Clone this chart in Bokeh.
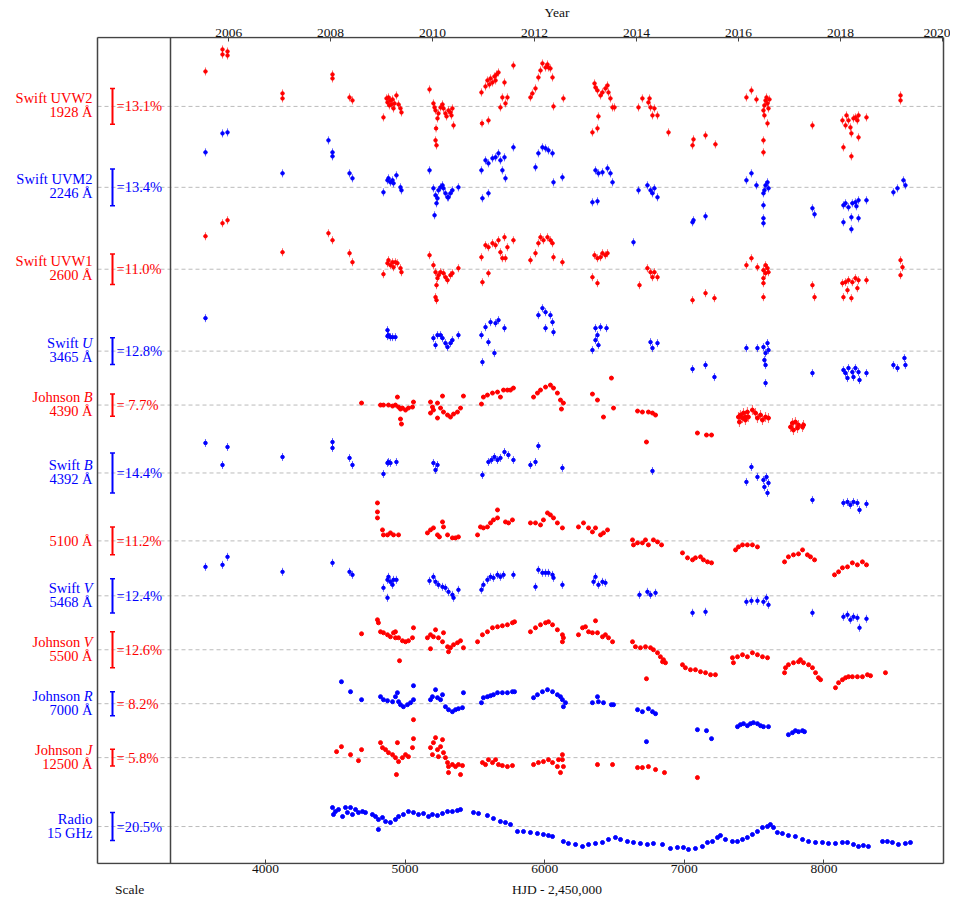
from bokeh.plotting import figure
from bokeh.models import Range1d, LinearAxis, FixedTicker
from bokeh.embed import file_html
from bokeh.resources import INLINE
from bokeh.core.properties import value

# ---------------- data: (HJD-2450000, flux offset from the band's dashed line, panel units) ----------------
uvw2 = [(3570,35),(3692,57),(3692,52),(3728,55),(3728,51),(4122,13),(4122,8),(4480,32),(4480,28),(4602,9),(4623,6),
        (4845,-11),(4867,8),(4874,4),(4881,9),(4888,1),(4895,6),(4903,2),(4910,7),(4917,-2),(4924,3),(4938,11),(4953,2),
        (4967,-2),(4974,-6),(5175,17),(5203,3),(5211,-1),(5218,-4),(5222,-22),(5218,-34),(5225,-39),(5232,-12),(5239,-7),
        (5254,-1),(5268,2),(5275,-2),(5289,-7),(5297,-10),(5311,-4),(5325,-6),(5332,-9),(5339,-2),(5347,-19),(5547,14),
        (5551,-17),(5597,-14),(5576,20),(5590,26),(5604,22),(5612,28),(5626,24),(5640,30),(5648,26),(5655,32),(5669,34),
        (5683,-1),(5697,9),(5712,24),(5719,3),(5733,9),(5776,41),(5898,9),(5912,13),(5934,18),(5955,29),(5970,36),(5984,43),
        (6006,39),(6020,42),(6027,39),(6041,38),(6056,29),(6063,0),(6134,8),(6342,-26),(6378,-22),(6385,-10),(6357,23),
        (6364,19),(6378,16),(6400,11),(6414,14),(6435,18),(6450,21),(6457,14),(6471,8),(6486,-1),(6500,-1),(6672,-1),
        (6700,8),(6743,4),(6751,8),(6758,-1),(6772,-9),(6786,-2),(6808,-9),(6887,-26),(7059,-39),(7066,-33),(7152,-29),
        (7223,-38),(7445,9),(7481,16),(7517,7),(7567,-4),(7574,1),(7582,6),(7589,9),(7596,3),(7603,-2),(7610,7),(7574,-9),
        (7596,-17),(7567,-34),(7567,-46),(7918,-19),(8133,-14),(8140,-41),(8155,-19),(8162,-9),(8176,-14),(8190,-21),
        (8197,-27),(8197,-50),(8212,-12),(8226,-11),(8240,-14),(8248,-9),(8248,-31),(8305,-11),(8549,11),(8549,6)]

uvm2 = [(3570,35),(3692,54),(3728,55),(4122,14),(4451,47),(4480,35),(4480,31),(4602,14),(4623,9),(4845,-5),(4874,7),
        (4881,9),(4895,5),(4910,7),(4917,4),(4938,12),(4967,0),(4974,-3),(5175,17),(5203,-1),(5218,-8),(5225,-16),
        (5211,-28),(5232,-11),(5239,-3),(5254,0),(5268,2),(5275,-1),(5289,-6),(5304,-10),(5311,-10),(5325,-6),(5339,-3),
        (5382,0),(5547,17),(5554,-11),(5597,-6),(5576,27),(5597,24),(5626,29),(5648,30),(5669,34),(5683,27),(5697,17),
        (5712,30),(5719,9),(5776,40),(5934,20),(5955,34),(5984,40),(6006,39),(6027,37),(6056,34),(6063,5),(6127,10),
        (6342,-15),(6378,-14),(6364,17),(6385,14),(6414,15),(6450,19),(6471,14),(6486,5),(6636,-55),(6672,-3),(6736,2),
        (6758,-3),(6772,-6),(6786,-1),(6808,-10),(7059,-35),(7066,-33),(7152,-29),(7445,7),(7481,14),(7517,2),(7567,-6),
        (7582,2),(7596,5),(7603,-1),(7574,-3),(7567,-18),(7567,-31),(7567,-36),(7918,-21),(7933,-27),(8140,-18),
        (8155,-16),(8176,-20),(8204,-16),(8226,-15),(8248,-13),(8233,-19),(8197,-30),(8140,-35),(8197,-42),(8248,-31),
        (8305,-13),(8498,-5),(8527,-1),(8570,7),(8584,2)]

uvw1 = [(3570,33),(3692,46),(3728,49),(4122,17),(4451,36),(4480,29),(4602,16),(4623,7),(4845,-5),(4874,6),(4881,9),
        (4895,4),(4910,7),(4917,2),(4931,7),(4945,6),(4967,1),(4974,-3),(5175,14),(5203,4),(5218,-3),(5225,-16),
        (5218,-28),(5225,-31),(5232,-9),(5239,-6),(5254,-3),(5275,-4),(5289,-8),(5304,-11),(5325,-6),(5339,-4),(5382,1),
        (5547,12),(5554,-13),(5597,-4),(5576,24),(5597,22),(5626,26),(5648,24),(5669,29),(5683,17),(5697,11),(5712,32),
        (5719,11),(5733,22),(5776,29),(5898,9),(5934,16),(5955,26),(5970,32),(5991,29),(6020,32),(6041,29),(6056,26),
        (6063,12),(6127,7),(6342,-8),(6378,-14),(6357,14),(6378,11),(6400,12),(6414,16),(6435,14),(6450,16),(6679,-16),
        (6736,1),(6758,-3),(6772,-8),(6786,-3),(6808,-8),(7059,-31),(7152,-24),(7216,-29),(7445,4),(7481,11),(7524,2),
        (7567,-1),(7582,4),(7596,1),(7603,-3),(7567,-9),(7582,-4),(7567,-14),(7567,-28),(7918,-16),(7933,-28),
        (8133,-14),(8155,-13),(8176,-11),(8204,-13),(8226,-9),(8248,-11),(8140,-28),(8197,-29),(8169,-21),(8240,-19),
        (8305,-11),(8549,9),(8563,2),(8549,-6)]

swift_u = [(3570,33),(4874,21),(4881,16),(4895,14),(4910,14),(4931,14),(4874,15),(5203,13),(5218,6),(5232,16),(5254,16),
           (5268,13),(5289,8),(5304,4),(5325,8),(5339,11),(5382,16),(5547,16),(5554,-11),(5597,9),(5640,-2),(5576,24),
           (5612,29),(5648,28),(5669,31),(5712,23),(5955,36),(5984,43),(6006,39),(6041,36),(6056,29),(6006,23),(6063,19),
           (6342,1),(6364,11),(6378,16),(6385,6),(6364,23),(6400,24),(6443,23),(6758,9),(6772,3),(6808,8),(7059,-18),
           (7152,-14),(7216,-26),(7445,3),(7524,3),(7567,4),(7582,-2),(7596,8),(7603,1),(7574,-9),(7582,-14),(7582,-32),
           (7918,-22),(8140,-19),(8155,-22),(8176,-17),(8204,-21),(8226,-17),(8248,-21),(8169,-27),(8212,-26),(8255,-29),
           (8305,-22),(8498,-14),(8527,-17),(8577,-7),(8584,-14)]

johnson_b = [(4688,2),(4824,0),(4845,0),(4881,0),(4910,-1),(4931,0),(4945,8),(4953,-2),(4967,-4),(4981,-3),(5003,-5),
             (5024,-3),(5053,-2),(5060,3),(4967,-14),(4974,-19),(5182,3),(5196,-2),(5203,-5),(5232,2),(5254,-3),(5268,9),
             (5275,-7),(5304,-10),(5325,-12),(5347,-9),(5375,-7),(5397,-3),(5418,9),(5182,-8),(5232,-13),(5547,1),
             (5561,8),(5590,10),(5626,12),(5662,13),(5683,8),(5705,15),(5733,15),(5755,15),(5776,17),(5920,8),(5948,12),
             (5970,15),(6006,18),(6041,20),(6063,17),(6091,12),(6113,5),(6134,2),(6120,-4),(6342,11),(6378,5),(6478,27),
             (6421,-12),(6493,-3),(6665,-6),(6700,-7),(6743,-7),(6772,-8),(6794,-10),(6729,-37),(7094,-28),(7159,-30),
             (7195,-30),(7388,-12),(7402,-10),(7417,-13),(7424,-8),(7438,-12),(7452,-7),(7459,-12),(7488,-5),(7510,-8),
             (7524,-13),(7546,-10),(7560,-15),(7582,-12),(7603,-13),(7395,-17),(7438,-15),(7761,-22),(7775,-18),
             (7796,-17),(7811,-23),(7818,-20),(7847,-22),(7854,-20),(7782,-25)]
johnson_b_errbar_from = 7300   # later Johnson B points carry visible error bars

swift_b = [(3570,30),(3692,8),(3728,26),(4122,16),(4480,31),(4480,25),(4602,15),(4623,8),(4845,-1),(4874,10),(4881,11),
           (4895,10),(4938,11),(5203,10),(5218,3),(5232,8),(5554,-2),(5597,11),(5619,13),(5640,16),(5662,13),(5683,15),
           (5712,21),(5740,18),(5776,13),(5898,8),(5934,11),(5955,27),(6127,5),(6772,2),(7445,-9),(7481,6),(7524,-4),
           (7567,-7),(7589,-4),(7603,-10),(7596,-20),(7574,-14),(7918,-27),(8140,-30),(8169,-29),(8190,-32),(8212,-29),
           (8240,-30),(8255,-37),(8305,-31)]

flux_5100 = [(4802,38),(4802,29),(4802,23),(4838,11),(4845,6),(4874,6),(4895,8),(4917,6),(4953,6),(5160,8),(5182,11),
             (5203,13),(5232,6),(5246,4),(5268,19),(5275,14),(5304,6),(5339,3),(5361,3),(5382,4),(5519,6),(5540,14),
             (5561,13),(5590,14),(5612,18),(5633,21),(5662,31),(5662,23),(5719,19),(5741,18),(5769,21),(5898,18),
             (5934,18),(5970,16),(5991,21),(6020,28),(6041,26),(6063,23),(6091,18),(6127,13),(6242,14),(6278,18),
             (6314,13),(6342,9),(6364,13),(6400,6),(6421,8),(6450,11),(6629,1),(6636,-4),(6665,-2),(6700,-2),(6722,1),
             (6743,-4),(6779,1),(6808,-1),(6837,-4),(6987,-12),(7023,-17),(7059,-19),(7080,-17),(7116,-16),(7137,-19),
             (7166,-21),(7195,-22),(7367,-9),(7388,-6),(7417,-4),(7452,-4),(7488,-4),(7524,-6),(7718,-21),(7746,-16),
             (7782,-14),(7818,-13),(7847,-9),(7882,-14),(7904,-16),(7933,-19),(8076,-34),(8105,-31),(8133,-27),
             (8169,-26),(8204,-22),(8240,-24),(8276,-21),(8305,-24)]

swift_v = [(3570,29),(3692,31),(3728,39),(4122,24),(4480,33),(4602,24),(4623,21),(4845,8),(4874,-2),(4874,16),(4881,19),
           (4895,14),(4910,11),(4917,16),(4938,16),(5175,15),(5203,19),(5218,14),(5239,11),(5268,9),(5289,8),(5311,4),
           (5339,1),(5347,-2),(5382,6),(5547,6),(5561,11),(5590,16),(5612,19),(5633,18),(5662,21),(5683,19),(5705,21),
           (5776,21),(5934,9),(5955,26),(5984,23),(6006,23),(6027,23),(6056,21),(6063,18),(6127,11),(6350,14),(6364,19),
           (6385,11),(6414,14),(6435,13),(6679,1),(6736,4),(6758,1),(6794,3),(7059,-17),(7152,-16),(7445,-6),(7481,-5),
           (7524,-5),(7567,-6),(7589,-2),(7603,-9),(7918,-17),(8140,-21),(8169,-19),(8190,-24),(8212,-21),(8240,-22),
           (8255,-32),(8305,-23)]

johnson_v = [(4688,16),(4802,30),(4809,27),(4824,18),(4845,17),(4874,15),(4895,13),(4917,17),(4931,12),(4931,18),
             (4953,12),(4981,9),(5003,8),(5024,9),(5053,12),(5060,22),(4960,-11),(5160,12),(5182,15),(5203,13),
             (5218,20),(5239,12),(5268,8),(5275,17),(5304,3),(5325,2),(5311,-2),(5347,5),(5375,7),(5397,9),(5418,2),
             (5182,1),(5519,8),(5554,15),(5590,18),(5626,22),(5662,23),(5697,24),(5733,25),(5769,27),(5784,28),
             (5898,18),(5934,22),(5970,25),(6006,27),(6027,28),(6056,25),(6091,20),(6127,15),(6134,12),(6127,8),
             (6242,15),(6271,22),(6292,23),(6314,18),(6342,17),(6364,29),(6378,17),(6414,13),(6435,15),(6457,12),
             (6486,8),(6629,8),(6650,3),(6686,2),(6722,3),(6758,2),(6779,0),(6808,-3),(6829,-7),(6851,-10),(6844,-12),
             (6865,-13),(6729,-29),(6987,-15),(7008,-18),(7044,-20),(7080,-20),(7116,-22),(7152,-23),(7188,-25),
             (7223,-25),(7345,-8),(7352,-13),(7381,-7),(7417,-5),(7452,-7),(7488,-3),(7524,-5),(7560,-7),(7596,-8),
             (7718,-23),(7725,-18),(7746,-15),(7782,-13),(7818,-12),(7832,-10),(7854,-13),(7890,-15),(7918,-18),
             (7940,-23),(7961,-28),(7976,-30),(8083,-38),(8105,-33),(8133,-30),(8155,-28),(8176,-27),(8204,-27),
             (8240,-27),(8276,-27),(8312,-25),(8334,-26),(8441,-23)]

johnson_r = [(4544,22),(4609,12),(4688,4),(4824,7),(4845,4),(4874,3),(4910,2),(4931,7),(4945,11),(4953,2),(4967,-1),
             (4988,-3),(5017,-1),(5039,1),(5060,4),(5060,18),(5182,4),(5196,7),(5218,14),(5232,6),(5254,4),(5268,9),
             (5289,-3),(5311,-6),(5339,-8),(5361,-6),(5382,-5),(5411,-4),(5418,11),(5547,1),(5561,6),(5590,7),(5612,8),
             (5633,9),(5662,11),(5697,11),(5733,11),(5769,12),(5784,12),(5920,6),(5948,9),(5984,12),(6020,14),(6056,12),
             (6091,9),(6113,7),(6127,4),(6134,-3),(6149,1),(6342,1),(6378,7),(6385,2),(6421,1),(6478,-1),(6493,-1),
             (6665,-6),(6700,-8),(6743,-5),(6772,-8),(6794,-10),(6729,-38),(7094,-26),(7159,-27),(7195,-35),(7381,-23),
             (7402,-21),(7424,-20),(7452,-22),(7474,-20),(7495,-19),(7524,-20),(7546,-22),(7567,-23),(7603,-23),
             (7746,-31),(7775,-29),(7796,-27),(7818,-28),(7847,-27),(7861,-28)]

johnson_j = [(4509,6),(4544,11),(4609,3),(4666,-3),(4688,8),(4824,15),(4838,10),(4860,8),(4881,5),(4910,3),(4931,0),
             (4945,15),(4953,-4),(4981,0),(5003,3),(5024,1),(5053,10),(5060,19),(5060,38),(4938,-17),(5182,10),(5203,15),
             (5218,20),(5232,8),(5254,11),(5268,18),(5275,5),(5289,0),(5304,-5),(5311,-9),(5339,-7),(5361,-9),(5382,-7),
             (5411,-8),(5311,-15),(5397,-17),(5196,3),(5239,1),(5554,-5),(5576,-7),(5597,-2),(5626,-5),(5648,-2),
             (5669,-7),(5697,-8),(5733,-9),(5769,-8),(5920,-7),(5955,-5),(5991,-4),(6027,-2),(6056,-5),(6091,-9),
             (6127,-2),(6099,-2),(6127,3),(6134,-9),(6113,-15),(6378,-7),(6486,-7),(6665,-10),(6700,-10),(6743,-9),
             (6794,-12),(6858,-15),(7094,-20)]

radio = [(4480,19),(4487,12),(4501,15),(4523,17),(4552,10),(4573,19),(4587,14),(4609,19),(4623,12),(4645,17),(4666,14),
         (4695,15),(4716,14),(4766,12),(4788,10),(4809,7),(4809,-3),(4838,9),(4860,5),(4895,4),(4931,7),(4953,10),
         (4988,12),(5024,15),(5060,14),(5096,12),(5132,13),(5168,10),(5196,12),(5232,11),(5268,13),(5304,15),(5339,15),
         (5375,16),(5397,17),(5490,14),(5526,13),(5590,11),(5633,8),(5683,5),(5719,4),(5755,2),(5805,-5),(5848,-5),
         (5898,-6),(5948,-7),(5991,-8),(6027,-9),(6056,-10),(6134,-15),(6170,-17),(6221,-18),(6271,-20),(6314,-18),
         (6364,-17),(6414,-16),(6457,-13),(6507,-11),(6543,-13),(6593,-15),(6636,-16),(6686,-17),(6736,-18),(6779,-17),
         (6844,-18),(6901,-22),(6951,-21),(6994,-21),(7030,-23),(7080,-22),(7130,-20),(7166,-16),(7202,-15),(7238,-11),
         (7259,-9),(7295,-13),(7345,-15),(7381,-15),(7417,-13),(7452,-11),(7488,-8),(7524,-5),(7560,-1),(7596,0),
         (7617,2),(7639,-1),(7667,-6),(7703,-7),(7746,-9),(7796,-10),(7847,-13),(7890,-15),(7940,-16),(7990,-16),
         (8033,-17),(8083,-17),(8133,-16),(8169,-16),(8212,-18),(8248,-20),(8283,-19),(8319,-20),(8420,-15),(8455,-15),
         (8491,-16),(8534,-18),(8584,-17),(8620,-16)]

# band descriptions (top to bottom)
band_roman = ["Swift UVW2", "Swift UVM2", "Swift UVW1", "Swift", "Johnson", "Swift", "", "Swift", "Johnson", "Johnson", "Johnson", "Radio"]
band_italic = ["", "", "", "U", "B", "B", "", "V", "V", "R", "J", ""]
band_wave = ["1928 Å", "2246 Å", "2600 Å", "3465 Å", "4390 Å", "4392 Å", "5100 Å", "5468 Å", "5500 Å", "7000 Å", "12500 Å", "15 GHz"]
band_scale = ["=13.1%", "=13.4%", "=11.0%", "=12.8%", "= 7.7%", "=14.4%", "=11.2%", "=12.4%", "=12.6%", "= 8.2%", "= 5.8%", "=20.5%"]
band_data = [uvw2, uvm2, uvw1, swift_u, johnson_b, swift_b, flux_5100, swift_v, johnson_v, johnson_r, johnson_j, radio]
band_is_swift = [True, True, True, True, False, True, False, True, False, False, False, False]
year_ticks = list(range(2006, 2021, 2))
hjd_ticks = [4000, 5000, 6000, 7000, 8000]
x_title = "HJD - 2,450,000"
top_title = "Year"
scale_title = "Scale"

# ---------------- layout / style ----------------
RED, BLUE = "#ff0000", "#0000ff"
band_color = [RED, BLUE] * 6
scale_color = list(band_color)
scale_color[9] = RED
band_base = [758, 677, 595, 513, 459, 391, 323, 268, 214, 160, 106, 37]      # dashed line level (panel units)
bar_len = [35.7, 36.7, 30.7, 27, 22.3, 40, 27.7, 34.3, 36, 24, 16.7, 28]
FONT = "Liberation Serif"
AX_FS = "13.5px"
FRAME_TOP = 827
DAYS_PER_PX = 1 / 0.1396


def px(page_x):
    """horizontal layout position (pixel) -> HJD coordinate of the figure"""
    return 4000 + (page_x - 265) * DAYS_PER_PX


def year_of(hjd):
    return 2000.0 + (hjd + 2450000.0 - 2451544.5) / 365.25


X0, X1 = px(0), px(946)
BOX_L, BOX_M, BOX_R = px(97), px(170), px(943)

p = figure(width=950, height=899, x_range=Range1d(X0, X1), y_range=Range1d(-1, FRAME_TOP + 1),
           output_backend="svg", toolbar_location=None, x_axis_location="below", y_axis_location=None,
           min_border_left=0, min_border_right=4, min_border_top=36, min_border_bottom=34)
p.grid.visible = False
p.outline_line_color = None
p.background_fill_color = "white"
p.border_fill_color = "white"

bottom_axis = p.below[0]
bottom_axis.ticker = FixedTicker(ticks=hjd_ticks)
p.extra_x_ranges = {"yr": Range1d(year_of(X0), year_of(X1))}
top_axis = LinearAxis(x_range_name="yr", ticker=FixedTicker(ticks=year_ticks))
p.add_layout(top_axis, "above")
for ax in (bottom_axis, top_axis):
    ax.axis_line_color = None
    ax.major_tick_in = 5
    ax.major_tick_out = 0
    ax.major_tick_line_color = "#444444"
    ax.minor_tick_line_color = None
    ax.major_label_text_font = FONT
    ax.major_label_text_font_size = AX_FS
    ax.major_label_text_color = "#111111"
    ax.major_label_standoff = 0

# outer rows of the axes carry the axis titles ("Scale" sits under the scale panel)
xc = int(round(0.5 * (BOX_M + BOX_R)))
xs = int(round(px(129)))


def title_row(ticks, overrides):
    a = LinearAxis(ticker=FixedTicker(ticks=ticks), major_label_overrides=overrides)
    a.axis_line_color = None
    a.major_tick_line_color = None
    a.minor_tick_line_color = None
    a.major_label_text_font = FONT
    a.major_label_text_font_size = AX_FS
    a.major_label_text_color = "#111111"
    a.major_label_standoff = 0
    return a


p.add_layout(title_row([xs, xc], {xs: scale_title, xc: x_title}), "below")
p.add_layout(title_row([xc], {xc: top_title}), "above")

# dashed band levels
n = len(band_base)
p.segment(x0=[BOX_L] * n, x1=[BOX_R] * n, y0=band_base, y1=band_base,
          line_color="#bbbbbb", line_width=1, line_dash="4 3")

# frame lines
p.segment(x0=[BOX_L, BOX_M, BOX_R, BOX_L, BOX_L], y0=[0, 0, 0, 0, FRAME_TOP],
          x1=[BOX_L, BOX_M, BOX_R, BOX_R, BOX_R], y1=[FRAME_TOP, FRAME_TOP, FRAME_TOP, 0, FRAME_TOP],
          line_color="#444444", line_width=1.5)

# light curves
for i, pts in enumerate(band_data):
    t = [a for a, b in pts]
    y = [band_base[i] + b for a, b in pts]
    c = band_color[i]
    if band_is_swift[i]:
        p.segment(x0=t, y0=[v - 4 for v in y], x1=t, y1=[v + 4 for v in y], line_color=c, line_alpha=0.6, line_width=1)
        p.scatter(t, y, size=3.5, color=c, marker="circle")
    else:
        if i == 4:
            te = [a for a in t if a > johnson_b_errbar_from]
            ye = [v for a, v in zip(t, y) if a > johnson_b_errbar_from]
            p.segment(x0=te, y0=[v - 5 for v in ye], x1=te, y1=[v + 5 for v in ye], line_color=c, line_alpha=0.6, line_width=1)
        p.scatter(t, y, size=4, color=c, marker="circle")

# scale bars
BAR_X = px(112)
CAP = 2.5 * DAYS_PER_PX
p.segment(x0=[BAR_X] * n, x1=[BAR_X] * n, y0=[b - l / 2 for b, l in zip(band_base, bar_len)],
          y1=[b + l / 2 for b, l in zip(band_base, bar_len)], line_color=band_color, line_width=2)
for sgn in (-1, 1):
    p.segment(x0=[BAR_X - CAP] * n, x1=[BAR_X + CAP] * n,
              y0=[b + sgn * l / 2 for b, l in zip(band_base, bar_len)],
              y1=[b + sgn * l / 2 for b, l in zip(band_base, bar_len)], line_color=band_color, line_width=1.5)

FS = 14.5
p.text(x=[px(116)] * n, y=band_base, text=band_scale, text_align="left", text_baseline="middle",
       text_font=value(FONT), text_font_size=f"{FS}px", text_color=scale_color)

# band labels
ital_w = {"U": 0.722, "B": 0.611, "V": 0.611, "R": 0.611, "J": 0.444}
LBL_X = px(92)
rx, ry, rt, rc = [], [], [], []
ix, iy, it, ic = [], [], [], []
for i in range(n):
    b = band_base[i]
    two = band_roman[i] != ""
    y1 = b + 8 if two else b
    if two:
        if band_italic[i]:
            ix.append(LBL_X); iy.append(y1); it.append(band_italic[i]); ic.append(band_color[i])
            rx.append(px(92 - ital_w[band_italic[i]] * FS - 3.5))
        else:
            rx.append(LBL_X)
        ry.append(y1); rt.append(band_roman[i]); rc.append(band_color[i])
        rx.append(LBL_X); ry.append(b - 6); rt.append(band_wave[i]); rc.append(band_color[i])
    else:
        rx.append(LBL_X); ry.append(b); rt.append(band_wave[i]); rc.append(band_color[i])

p.text(x=rx, y=ry, text=rt, text_align="right", text_baseline="middle",
       text_font=value(FONT), text_font_size=f"{FS}px", text_color=rc)
p.text(x=ix, y=iy, text=it, text_align="right", text_baseline="middle", text_font_style="italic",
       text_font=value(FONT), text_font_size=f"{FS}px", text_color=ic)

open("out.html", "w").write(file_html(p, INLINE))
